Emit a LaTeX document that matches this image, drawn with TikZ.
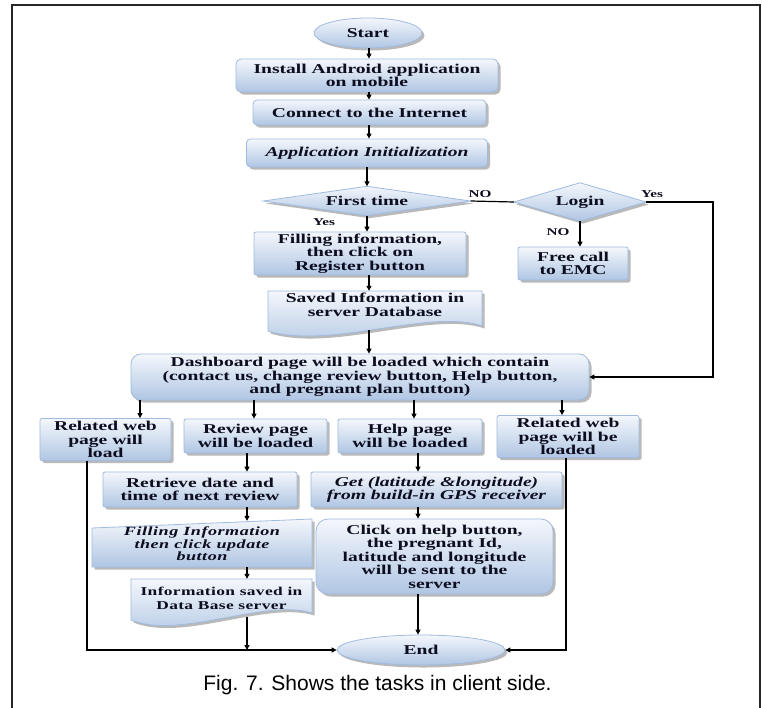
\documentclass[tikz,border=0pt]{standalone}
\usepackage{fontspec}
\setmainfont{Liberation Serif}[FakeStretch=1.45]
\newfontfamily\capfont{Liberation Sans}
\usetikzlibrary{arrows.meta,shadows,backgrounds,calc,shapes.geometric}
\definecolor{boxtop}{HTML}{F4F7FC}
\definecolor{boxbot}{HTML}{B0C6E3}
\definecolor{boxline}{HTML}{A0BBDF}
\definecolor{shadowc}{HTML}{8A8A8A}
\definecolor{txtc}{HTML}{0D0D20}
\tikzset{
  shadebox/.style={top color=boxtop, bottom color=boxbot, draw=boxline, line width=0.8pt,
    drop shadow={shadow xshift=2.5pt, shadow yshift=-2.5pt, fill=shadowc, opacity=0.6}},
  txt/.style={font=\fontsize{13.5}{13.5}\selectfont\bfseries, align=center, inner sep=0pt, text=txtc},
  itxt/.style={font=\fontsize{13.5}{13.5}\selectfont\bfseries\itshape, align=center, inner sep=0pt, text=txtc},
  proc/.style={shadebox, txt, rectangle, rounded corners=2pt},
  lbl/.style={font=\fontsize{10.5}{10.5}\selectfont\bfseries, inner sep=0pt, text=txtc},
  arr/.style={line width=1.2pt, black, -{Triangle[length=5pt,width=5pt]}},
  ln/.style={line width=1.2pt, black}
}
\begin{document}
\begin{tikzpicture}[x=1pt,y=-1pt]
\useasboundingbox (0,0) rectangle (762,707);
\coordinate (colM) at (369,0);
\coordinate (colA) at (247,0);
\coordinate (colB) at (418,0);
\coordinate (cL) at (87,0);
\coordinate (cR) at (566,0);
\coordinate (yR) at (713,0);
\coordinate (d1) at (140,0);
\coordinate (d2) at (254,0);
\coordinate (d3) at (414,0);
\coordinate (d4) at (562,0);

% main column
\node[proc, ellipse, minimum width=108pt, minimum height=30pt] (start) at (368,33) {Start};
\node[proc, rounded corners=5pt, minimum width=262pt, minimum height=33pt] (inst) at (367,75.5) {Install Android application\\on mobile};
\node[proc, rounded corners=4pt, minimum width=233pt, minimum height=25pt] (conn) at (369.5,112.5) {Connect to the Internet};
\node[proc, itxt, rounded corners=4pt, minimum width=241pt, minimum height=28pt] (init) at (367,153) {Application Initialization};
\node[txt, minimum width=207pt, minimum height=29pt] (first) at (367,201) {First time};
\node[txt, minimum width=132pt, minimum height=38pt] (login) at (580,202) {Login};
\node[proc, minimum width=110pt, minimum height=33pt] (free) at (573,263.5) {Free call\\to EMC};
\node[proc, minimum width=212pt, minimum height=43pt] (fill) at (360,253.5) {Filling information,\\then click on\\Register button};
\node[txt, minimum width=214pt, minimum height=28pt] (saved) at (375,305) {Saved Information in\\server Database};
\node[proc, rounded corners=10pt, minimum width=458pt, minimum height=46pt] (dash) at (360,377) {Dashboard page will be loaded which contain\\(contact us, change review button, Help button,\\and pregnant plan button)};

% second row
\node[proc, minimum width=131pt, minimum height=42pt] (b1) at (105.5,439.5) {Related web\\page will\\load};
\node[proc, minimum width=143pt, minimum height=34pt] (b2) at (255.5,436) {Review page\\will be loaded};
\node[proc, minimum width=144pt, minimum height=34pt] (b3) at (410,436) {Help page\\will be loaded};
\node[proc, minimum width=142pt, minimum height=42pt] (b4) at (568,436.5) {Related web\\page will be\\loaded};

\node[proc, minimum width=194pt, minimum height=35pt] (ret) at (200,489.5) {Retrieve date and\\time of next review};
\node[proc, itxt, minimum width=251pt, minimum height=35pt] (get) at (436.5,489.5) {Get (latitude \&longitude)\\from build-in GPS receiver};
\node[txt, font=\fontsize{12.5}{12.5}\selectfont\bfseries\itshape\addfontfeature{LetterSpace=4}, minimum width=220pt, minimum height=46pt] (finfo) at (202,544) {Filling Information\\then click update\\button};
\node[txt, font=\fontsize{12}{14}\selectfont\bfseries\addfontfeature{LetterSpace=3}, minimum width=181pt, minimum height=38pt] (isav) at (221.5,598) {Information saved in\\Data Base server};
\node[proc, rounded corners=12pt, minimum width=237pt, minimum height=75pt] (click) at (434.5,556.5) {Click on help button,\\the pregnant Id,\\latitude and longitude\\will be sent to the\\server};
\node[proc, ellipse, minimum width=168pt, minimum height=30pt] (endn) at (421,650) {End};

\node[font=\capfont\fontsize{21}{21}\selectfont, inner sep=0pt] (cap) at (377.5,685) {Fig. 7. Shows the tasks in client side.};

% labels
\node[lbl] (lno1) at (480,194) {NO};
\node[lbl] (lyes1) at (652,194) {Yes};
\node[lbl] (lyes2) at (324,222) {Yes};
\node[lbl] (lno2) at (558,232) {NO};

% background shapes
\begin{scope}[on background layer]
\draw[line width=2pt, black!85] (12,5) rectangle (760,730);
\path[shadebox] (first.west) -- (first.north) -- (first.east) -- (first.south) -- cycle;
\path[shadebox] (login.west) -- (login.north) -- (login.east) -- (login.south) -- cycle;
\path[shadebox] (268,291) -- (482,291) -- (482,326) .. controls (430,308) and (330,350) .. (268,331) -- cycle;
\path[shadebox] (92,528) -- (312,519) -- (312,567) -- (92,567) -- cycle;
\path[shadebox] (131,579) -- (312,579) -- (312,613) .. controls (265,598) and (180,640) .. (131,620) -- cycle;
\end{scope}

% connectors
\draw[arr] (start.south -| colM) -- (inst.north -| colM);
\draw[arr] (inst.south -| colM) -- (conn.north -| colM);
\draw[arr] (conn.south -| colM) -- (init.north -| colM);
\draw[arr] (init.south -| first.north) -- (first.north);
\draw[ln] (first.east) -- (login.west);
\draw[arr] (login.east) -- (login.east -| yR) |- (dash.east);
\draw[arr] (login.south) -- (free.north -| login.south);
\draw[arr] (first.south) -- (fill.north -| first.south);
\draw[arr] (fill.south -| colM) -- (saved.north -| colM);
\draw[arr] ($(saved.south -| colM)+(0,11)$) -- (dash.north -| colM);
\draw[arr] (dash.south -| d1) -- (b1.north -| d1);
\draw[arr] (dash.south -| d2) -- (b2.north -| d2);
\draw[arr] (dash.south -| d3) -- (b3.north -| d3);
\draw[arr] (dash.south -| d4) -- (b4.north -| d4);
\draw[arr] (b2.south -| colA) -- (ret.north -| colA);
\draw[arr] (ret.south -| colA) -- (finfo.north -| colA);
\draw[arr] (finfo.south -| colA) -- (isav.north -| colA);
\draw[arr] (isav.south -| colA) -- (colA |- endn.west);
\draw[arr] (b3.south -| colB) -- (get.north -| colB);
\draw[arr] (get.south -| colB) -- (click.north -| colB);
\draw[arr] (click.south -| colB) -- (endn.north -| colB);
\draw[arr] (b1.south -| cL) -- (cL |- endn.west) -- (endn.west);
\draw[arr] (b4.south -| cR) -- (cR |- endn.east) -- (endn.east);
\end{tikzpicture}
\end{document}
